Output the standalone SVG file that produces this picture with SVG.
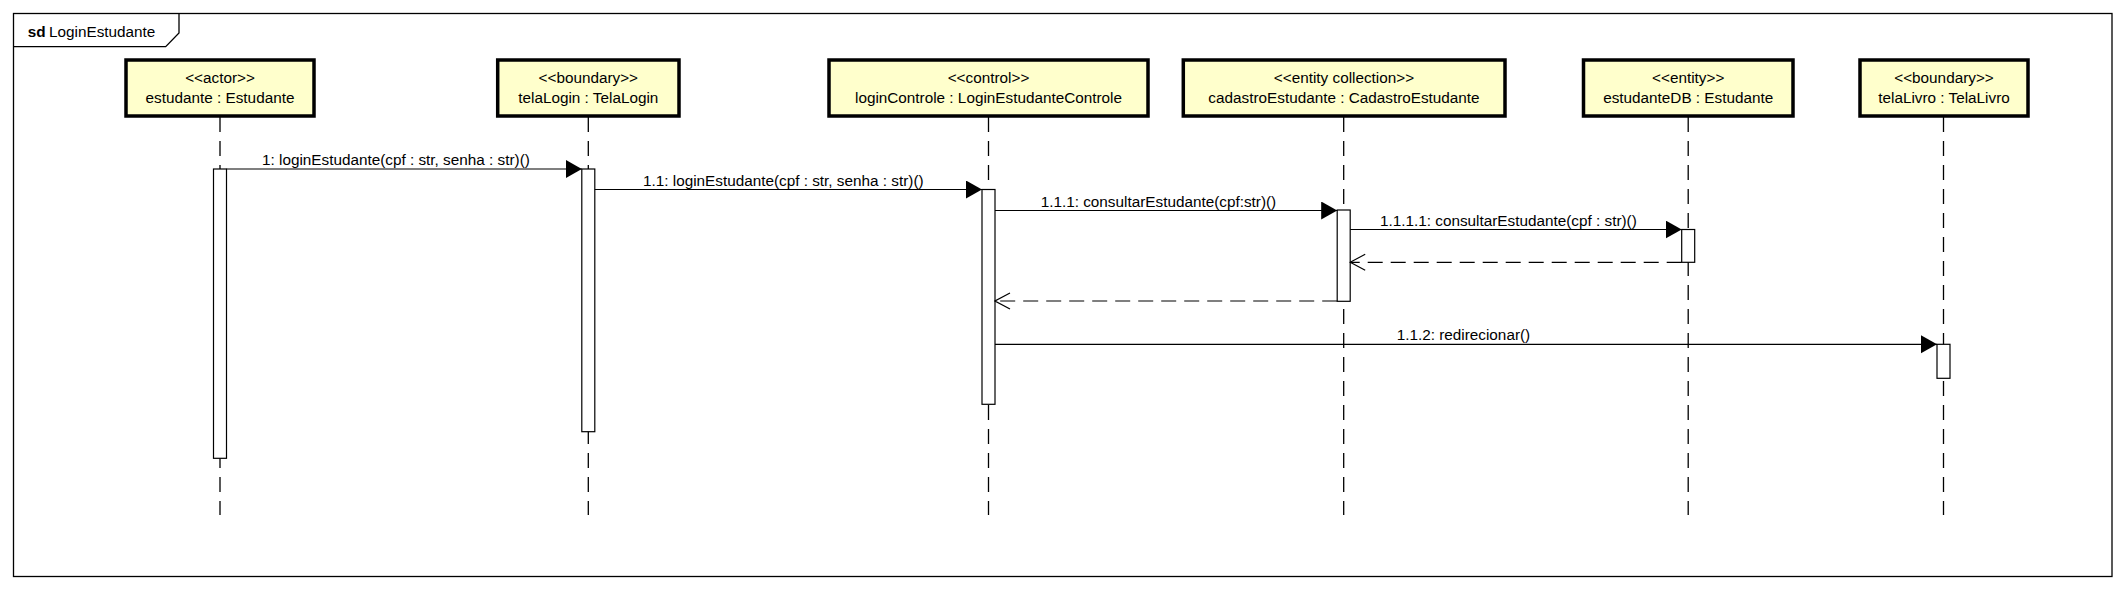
<svg xmlns="http://www.w3.org/2000/svg" width="2125" height="590" viewBox="0 0 2125 590">
<style>
text{font-family:"Liberation Sans",Arial,sans-serif;font-size:15.3px;fill:#000}
.box{fill:#FFFFCC;stroke:#000;stroke-width:3.5}
.life{stroke:#000;stroke-width:1.3;stroke-dasharray:15 9;fill:none}
.act{fill:#fff;stroke:#000;stroke-width:1.2}
.msg{stroke:#000;stroke-width:1.2;fill:none}
.ret{stroke:#000;stroke-width:1.2;fill:none;stroke-dasharray:15 8}
.c{text-anchor:middle}
</style>
<defs>
<marker id="sync" markerUnits="userSpaceOnUse" markerWidth="17" markerHeight="19" refX="16" refY="9" orient="auto" viewBox="0 0 17 19">
<path d="M0,0 L16,9 L0,18 z" fill="#000"/>
</marker>
<marker id="open" markerUnits="userSpaceOnUse" markerWidth="17" markerHeight="19" refX="16" refY="9" orient="auto" viewBox="0 0 17 19">
<path d="M1,1 L16,9 L1,17" fill="none" stroke="#000" stroke-width="1.2" stroke-dasharray="none"/>
</marker>
</defs>
<rect width="2125" height="590" fill="#fff"/>
<g id="frame">
<rect x="13.5" y="13.5" width="2098.5" height="563" fill="none" stroke="#000" stroke-width="1.3"/>
<path d="M13.5,46.7 L165.7,46.7 L179,33 L179,13.5" fill="none" stroke="#000" stroke-width="1.3"/>
<text x="27.7" y="36.7"><tspan font-weight="bold">sd</tspan><tspan x="49">LoginEstudante</tspan></text>
</g>
<g id="estudante">
<line class="life" x1="220" y1="117" x2="220" y2="515"/>
<rect class="box" x="126" y="60" width="188" height="56"/>
<text class="c" x="220" y="82.7">&lt;&lt;actor&gt;&gt;</text>
<text class="c" x="220" y="103.3">estudante : Estudante</text>
<rect class="act" x="213.5" y="169" width="13" height="289.3"/>
</g>
<g id="telaLogin">
<line class="life" x1="588.3" y1="117" x2="588.3" y2="515"/>
<rect class="box" x="497.7" y="60" width="181.3" height="56"/>
<text class="c" x="588.3" y="82.7">&lt;&lt;boundary&gt;&gt;</text>
<text class="c" x="588.3" y="103.3">telaLogin : TelaLogin</text>
<rect class="act" x="581.8" y="169" width="13" height="262.7"/>
</g>
<g id="loginControle">
<line class="life" x1="988.5" y1="117" x2="988.5" y2="515"/>
<rect class="box" x="829" y="60" width="319" height="56"/>
<text class="c" x="988.5" y="82.7">&lt;&lt;control&gt;&gt;</text>
<text class="c" x="988.5" y="103.3">loginControle : LoginEstudanteControle</text>
<rect class="act" x="982" y="189.5" width="13" height="214.8"/>
</g>
<g id="cadastroEstudante">
<line class="life" x1="1343.7" y1="117" x2="1343.7" y2="515"/>
<rect class="box" x="1183.3" y="60" width="321.7" height="56"/>
<text class="c" x="1344" y="82.7">&lt;&lt;entity collection&gt;&gt;</text>
<text class="c" x="1344" y="103.3">cadastroEstudante : CadastroEstudante</text>
<rect class="act" x="1337.2" y="210" width="13" height="91.3"/>
</g>
<g id="estudanteDB">
<line class="life" x1="1688.2" y1="117" x2="1688.2" y2="515"/>
<rect class="box" x="1583.5" y="60" width="209.5" height="56"/>
<text class="c" x="1688.2" y="82.7">&lt;&lt;entity&gt;&gt;</text>
<text class="c" x="1688.2" y="103.3">estudanteDB : Estudante</text>
<rect class="act" x="1681.7" y="229.5" width="13" height="32.8"/>
</g>
<g id="telaLivro">
<line class="life" x1="1943.5" y1="117" x2="1943.5" y2="515"/>
<rect class="box" x="1860" y="60" width="168" height="56"/>
<text class="c" x="1944" y="82.7">&lt;&lt;boundary&gt;&gt;</text>
<text class="c" x="1944" y="103.3">telaLivro : TelaLivro</text>
<rect class="act" x="1937" y="344.3" width="13" height="34"/>
</g>
<g id="connectors">
<line class="msg" x1="226.5" y1="169" x2="581.8" y2="169" marker-end="url(#sync)"/>
<text x="262" y="165">1: loginEstudante(cpf : str, senha : str)()</text>
<line class="msg" x1="594.8" y1="189.5" x2="982" y2="189.5" marker-end="url(#sync)"/>
<text x="643" y="185.5">1.1: loginEstudante(cpf : str, senha : str)()</text>
<line class="msg" x1="995" y1="210.5" x2="1337.2" y2="210.5" marker-end="url(#sync)"/>
<text x="1040.7" y="206.5">1.1.1: consultarEstudante(cpf:str)()</text>
<line class="msg" x1="1350.2" y1="229.5" x2="1681.7" y2="229.5" marker-end="url(#sync)"/>
<text x="1380" y="225.5">1.1.1.1: consultarEstudante(cpf : str)()</text>
<line class="ret" x1="1681.7" y1="262.3" x2="1350.2" y2="262.3" marker-end="url(#open)"/>
<line class="ret" x1="1337.2" y1="301" x2="995" y2="301" marker-end="url(#open)"/>
<line class="msg" x1="995" y1="344.3" x2="1937" y2="344.3" marker-end="url(#sync)"/>
<text x="1396.7" y="340.3">1.1.2: redirecionar()</text>
</g>
</svg>
